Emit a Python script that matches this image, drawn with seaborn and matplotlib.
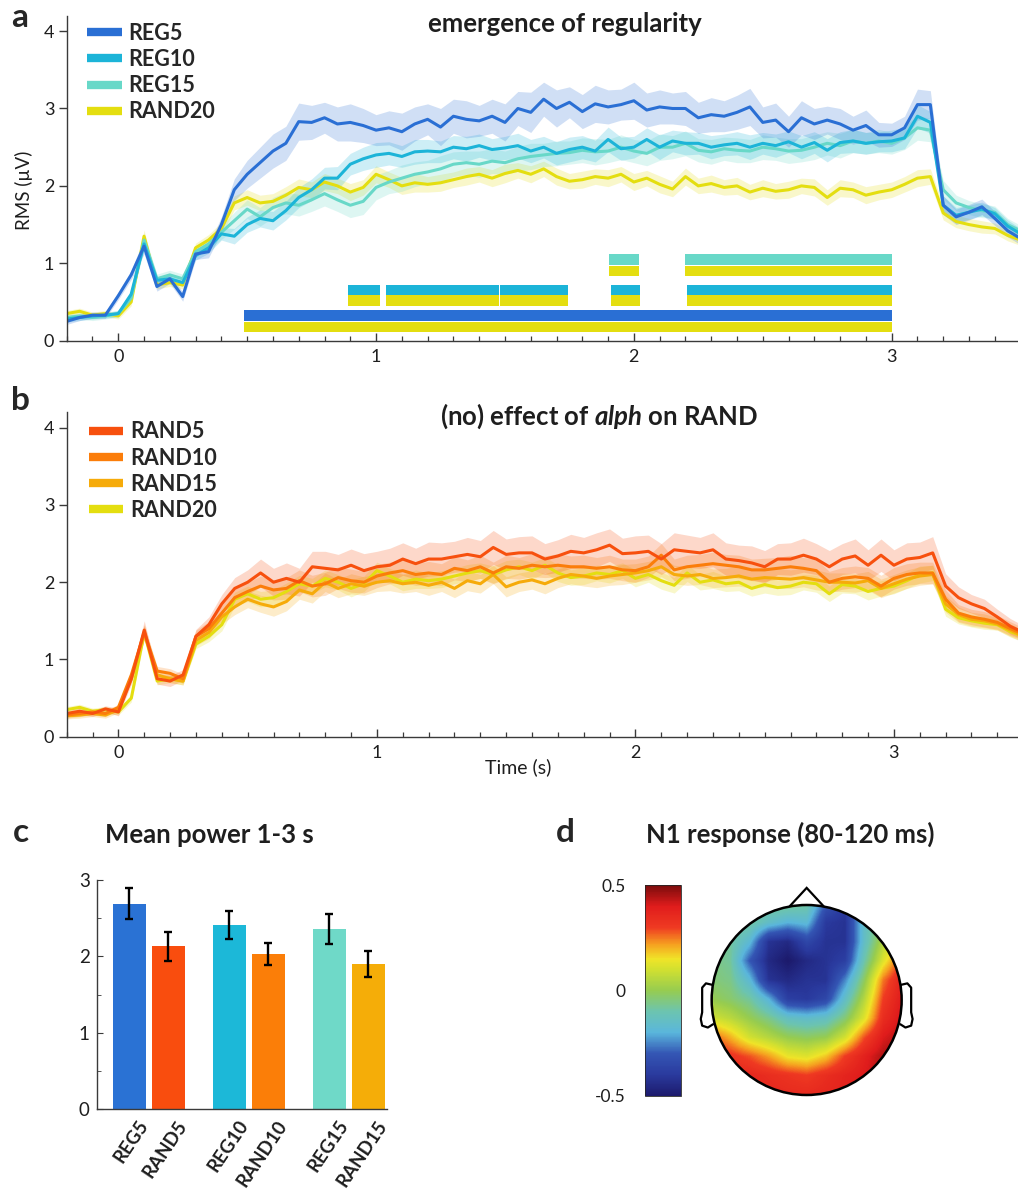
import numpy as np
import pandas as pd
import matplotlib
matplotlib.use("Agg")
import matplotlib.pyplot as plt
import seaborn as sns
from matplotlib.lines import Line2D
from matplotlib.patches import Circle, Polygon
from matplotlib.colors import LinearSegmentedColormap
from matplotlib.ticker import MultipleLocator
import matplotlib.transforms as mtrans

sns.set_style("ticks")
plt.rcParams['font.family'] = ['Lato', 'DejaVu Sans']
plt.rcParams['axes.unicode_minus'] = False
plt.rcParams['mathtext.fontset'] = 'custom'
plt.rcParams['mathtext.it'] = 'Lato:italic:bold'
plt.rcParams['mathtext.rm'] = 'Lato:bold'

# ---------------- data ----------------
TIME = [-0.20, -0.15, -0.10, -0.05, 0.00, 0.05, 0.10, 0.15, 0.20, 0.25,
        0.30, 0.35, 0.40, 0.45, 0.50, 0.55, 0.60, 0.65, 0.70, 0.75,
        0.80, 0.85, 0.90, 0.95, 1.00, 1.05, 1.10, 1.15, 1.20, 1.25,
        1.30, 1.35, 1.40, 1.45, 1.50, 1.55, 1.60, 1.65, 1.70, 1.75,
        1.80, 1.85, 1.90, 1.95, 2.00, 2.05, 2.10, 2.15, 2.20, 2.25,
        2.30, 2.35, 2.40, 2.45, 2.50, 2.55, 2.60, 2.65, 2.70, 2.75,
        2.80, 2.85, 2.90, 2.95, 3.00, 3.05, 3.10, 3.15, 3.20, 3.25,
        3.30, 3.35, 3.40, 3.45, 3.50]

REG5 = [0.25, 0.30, 0.33, 0.33, 0.58, 0.85, 1.22, 0.70, 0.80, 0.57,
        1.12, 1.15, 1.50, 1.95, 2.15, 2.30, 2.45, 2.55, 2.83, 2.82,
        2.88, 2.80, 2.82, 2.78, 2.72, 2.75, 2.70, 2.80, 2.86, 2.76,
        2.90, 2.86, 2.84, 2.90, 2.82, 3.00, 2.95, 3.12, 3.00, 3.08,
        2.96, 3.06, 3.02, 3.05, 3.10, 2.98, 3.02, 3.00, 3.00, 2.88,
        2.92, 2.90, 2.95, 3.02, 2.82, 2.85, 2.70, 2.88, 2.80, 2.85,
        2.80, 2.72, 2.78, 2.66, 2.66, 2.75, 3.05, 3.05, 1.75, 1.60,
        1.66, 1.73, 1.58, 1.42, 1.32]
REG10 = [0.28, 0.30, 0.32, 0.33, 0.35, 0.60, 1.25, 0.78, 0.80, 0.75,
         1.10, 1.20, 1.38, 1.35, 1.50, 1.58, 1.55, 1.68, 1.85, 1.95,
         2.10, 2.10, 2.28, 2.35, 2.40, 2.42, 2.38, 2.44, 2.45, 2.44,
         2.50, 2.48, 2.52, 2.47, 2.49, 2.52, 2.45, 2.50, 2.42, 2.47,
         2.50, 2.45, 2.60, 2.48, 2.50, 2.60, 2.50, 2.58, 2.55, 2.55,
         2.50, 2.53, 2.55, 2.50, 2.55, 2.52, 2.57, 2.50, 2.56, 2.46,
         2.56, 2.58, 2.55, 2.57, 2.58, 2.62, 2.90, 2.82, 1.75, 1.62,
         1.66, 1.70, 1.64, 1.48, 1.38]
REG15 = [0.30, 0.32, 0.30, 0.32, 0.35, 0.55, 1.30, 0.80, 0.85, 0.80,
         1.15, 1.25, 1.40, 1.55, 1.70, 1.60, 1.72, 1.78, 1.75, 1.82,
         1.90, 1.82, 1.75, 1.80, 1.98, 2.05, 2.10, 2.15, 2.18, 2.22,
         2.28, 2.30, 2.28, 2.32, 2.30, 2.35, 2.38, 2.40, 2.42, 2.43,
         2.46, 2.44, 2.45, 2.50, 2.45, 2.42, 2.50, 2.50, 2.55, 2.46,
         2.44, 2.48, 2.46, 2.45, 2.50, 2.48, 2.45, 2.46, 2.50, 2.55,
         2.52, 2.58, 2.55, 2.58, 2.55, 2.62, 2.75, 2.72, 1.95, 1.78,
         1.72, 1.68, 1.66, 1.50, 1.42]
RAND20 = [0.35, 0.38, 0.33, 0.35, 0.32, 0.50, 1.35, 0.72, 0.75, 0.72,
          1.20, 1.30, 1.45, 1.78, 1.85, 1.78, 1.80, 1.88, 1.98, 1.95,
          2.05, 2.00, 1.92, 1.98, 2.15, 2.08, 2.00, 2.04, 2.02, 2.04,
          2.08, 2.12, 2.15, 2.10, 2.16, 2.20, 2.15, 2.22, 2.12, 2.06,
          2.08, 2.12, 2.10, 2.15, 2.05, 2.10, 2.02, 1.96, 2.12, 2.00,
          2.03, 1.98, 2.00, 1.92, 1.97, 1.93, 1.95, 2.00, 1.98, 1.85,
          1.97, 1.95, 1.88, 1.92, 1.95, 2.02, 2.10, 2.12, 1.65, 1.54,
          1.50, 1.47, 1.45, 1.36, 1.30]
RAND5 = [0.30, 0.33, 0.30, 0.36, 0.32, 0.75, 1.38, 0.75, 0.72, 0.80,
         1.30, 1.45, 1.72, 1.92, 2.00, 2.12, 2.00, 2.05, 2.00, 2.20,
         2.18, 2.16, 2.22, 2.15, 2.20, 2.22, 2.30, 2.24, 2.30, 2.30,
         2.33, 2.36, 2.33, 2.45, 2.36, 2.38, 2.38, 2.30, 2.34, 2.40,
         2.38, 2.42, 2.48, 2.37, 2.38, 2.40, 2.30, 2.42, 2.40, 2.38,
         2.42, 2.30, 2.28, 2.25, 2.20, 2.30, 2.30, 2.35, 2.30, 2.20,
         2.30, 2.34, 2.22, 2.35, 2.22, 2.30, 2.32, 2.38, 1.95, 1.80,
         1.72, 1.66, 1.55, 1.43, 1.35]
RAND10 = [0.28, 0.30, 0.32, 0.30, 0.38, 0.80, 1.35, 0.85, 0.82, 0.75,
          1.30, 1.40, 1.60, 1.80, 1.88, 1.95, 1.90, 1.92, 2.02, 1.95,
          1.98, 2.06, 2.02, 2.00, 2.08, 2.12, 2.15, 2.10, 2.12, 2.10,
          2.18, 2.15, 2.20, 2.12, 2.20, 2.18, 2.22, 2.20, 2.22, 2.20,
          2.20, 2.18, 2.20, 2.16, 2.15, 2.20, 2.35, 2.16, 2.20, 2.22,
          2.24, 2.22, 2.20, 2.16, 2.16, 2.18, 2.20, 2.18, 2.15, 2.00,
          2.05, 2.07, 2.05, 1.95, 2.05, 2.10, 2.12, 2.12, 1.78, 1.60,
          1.55, 1.52, 1.48, 1.40, 1.33]
RAND15 = [0.27, 0.28, 0.30, 0.28, 0.35, 0.75, 1.35, 0.80, 0.75, 0.72,
          1.25, 1.35, 1.55, 1.68, 1.78, 1.72, 1.68, 1.75, 1.90, 1.85,
          2.00, 1.92, 1.98, 1.95, 2.00, 2.02, 1.98, 2.00, 1.96, 2.00,
          1.92, 2.02, 1.98, 2.10, 1.94, 2.00, 2.03, 1.98, 2.05, 2.10,
          2.08, 2.05, 2.08, 2.10, 2.12, 2.15, 2.20, 2.10, 2.08, 2.10,
          2.05, 2.06, 2.08, 2.04, 2.06, 2.05, 2.04, 2.06, 2.03, 2.00,
          2.00, 1.99, 2.02, 1.92, 1.98, 2.04, 2.08, 2.10, 1.72, 1.58,
          1.52, 1.50, 1.46, 1.38, 1.30]

REG5_SEM = [0.04, 0.04, 0.04, 0.04, 0.05, 0.06, 0.10, 0.06, 0.06, 0.06,
            0.07, 0.08, 0.10, 0.14, 0.18, 0.20, 0.22, 0.22, 0.24, 0.22,
            0.20, 0.22, 0.24, 0.22, 0.20, 0.22, 0.24, 0.22, 0.20, 0.24,
            0.22, 0.24, 0.20, 0.22, 0.24, 0.22, 0.26, 0.22, 0.24, 0.20,
            0.22, 0.24, 0.22, 0.20, 0.24, 0.22, 0.22, 0.20, 0.22, 0.20,
            0.22, 0.20, 0.22, 0.24, 0.20, 0.22, 0.20, 0.22, 0.20, 0.18,
            0.20, 0.18, 0.20, 0.16, 0.15, 0.15, 0.20, 0.18, 0.12, 0.10,
            0.10, 0.10, 0.09, 0.08, 0.08]
REG10_SEM = [0.04, 0.04, 0.04, 0.04, 0.04, 0.05, 0.08, 0.05, 0.05, 0.05,
             0.06, 0.07, 0.08, 0.10, 0.10, 0.11, 0.12, 0.12, 0.13, 0.14,
             0.14, 0.15, 0.14, 0.15, 0.16, 0.15, 0.14, 0.16, 0.15, 0.14,
             0.15, 0.16, 0.15, 0.14, 0.15, 0.16, 0.15, 0.14, 0.15, 0.16,
             0.15, 0.14, 0.16, 0.15, 0.14, 0.15, 0.16, 0.14, 0.15, 0.14,
             0.15, 0.14, 0.15, 0.16, 0.14, 0.15, 0.14, 0.15, 0.14, 0.15,
             0.14, 0.15, 0.14, 0.13, 0.14, 0.14, 0.15, 0.14, 0.12, 0.10,
             0.09, 0.09, 0.08, 0.08, 0.07]
REG15_SEM = [0.04, 0.04, 0.04, 0.04, 0.04, 0.05, 0.09, 0.06, 0.06, 0.06,
             0.07, 0.08, 0.09, 0.11, 0.12, 0.12, 0.13, 0.14, 0.14, 0.15,
             0.16, 0.15, 0.16, 0.17, 0.16, 0.15, 0.17, 0.16, 0.15, 0.17,
             0.16, 0.15, 0.17, 0.16, 0.15, 0.16, 0.17, 0.15, 0.16, 0.15,
             0.16, 0.17, 0.15, 0.16, 0.15, 0.16, 0.17, 0.15, 0.16, 0.15,
             0.16, 0.15, 0.16, 0.15, 0.16, 0.15, 0.16, 0.15, 0.16, 0.15,
             0.16, 0.15, 0.14, 0.15, 0.14, 0.15, 0.16, 0.15, 0.12, 0.10,
             0.09, 0.09, 0.08, 0.08, 0.07]
RAND20_SEM = [0.04, 0.04, 0.04, 0.04, 0.04, 0.05, 0.08, 0.05, 0.05, 0.05,
              0.06, 0.07, 0.08, 0.09, 0.10, 0.10, 0.10, 0.11, 0.11, 0.10,
              0.11, 0.10, 0.11, 0.10, 0.11, 0.10, 0.11, 0.12, 0.10, 0.11,
              0.10, 0.11, 0.10, 0.11, 0.12, 0.10, 0.11, 0.10, 0.11, 0.10,
              0.11, 0.10, 0.11, 0.10, 0.11, 0.10, 0.11, 0.10, 0.11, 0.10,
              0.11, 0.10, 0.11, 0.10, 0.11, 0.10, 0.11, 0.10, 0.11, 0.10,
              0.11, 0.10, 0.11, 0.10, 0.10, 0.10, 0.11, 0.10, 0.09, 0.08,
              0.08, 0.08, 0.07, 0.07, 0.07]
RAND5_SEM = [0.04, 0.04, 0.04, 0.04, 0.05, 0.07, 0.12, 0.07, 0.07, 0.07,
             0.09, 0.10, 0.12, 0.14, 0.16, 0.18, 0.18, 0.20, 0.18, 0.20,
             0.22, 0.20, 0.21, 0.22, 0.20, 0.22, 0.21, 0.20, 0.22, 0.21,
             0.20, 0.22, 0.21, 0.22, 0.20, 0.21, 0.22, 0.20, 0.21, 0.22,
             0.20, 0.22, 0.21, 0.20, 0.22, 0.21, 0.20, 0.22, 0.21, 0.20,
             0.22, 0.21, 0.20, 0.22, 0.21, 0.20, 0.21, 0.22, 0.20, 0.21,
             0.20, 0.22, 0.20, 0.21, 0.20, 0.21, 0.20, 0.21, 0.16, 0.14,
             0.12, 0.12, 0.10, 0.10, 0.09]
RAND10_SEM = [0.04, 0.04, 0.04, 0.04, 0.04, 0.06, 0.10, 0.06, 0.06, 0.06,
              0.08, 0.09, 0.10, 0.11, 0.12, 0.13, 0.13, 0.14, 0.14, 0.14,
              0.15, 0.14, 0.15, 0.14, 0.15, 0.14, 0.15, 0.14, 0.15, 0.14,
              0.15, 0.14, 0.15, 0.14, 0.15, 0.14, 0.15, 0.14, 0.15, 0.14,
              0.15, 0.14, 0.15, 0.14, 0.15, 0.14, 0.15, 0.14, 0.15, 0.14,
              0.15, 0.14, 0.15, 0.14, 0.15, 0.14, 0.15, 0.14, 0.15, 0.14,
              0.14, 0.14, 0.14, 0.14, 0.14, 0.14, 0.14, 0.14, 0.12, 0.11,
              0.10, 0.10, 0.09, 0.09, 0.08]
RAND15_SEM = [0.04, 0.04, 0.04, 0.04, 0.04, 0.05, 0.09, 0.05, 0.05, 0.05,
              0.07, 0.08, 0.09, 0.10, 0.11, 0.11, 0.12, 0.12, 0.12, 0.12,
              0.12, 0.12, 0.13, 0.12, 0.12, 0.13, 0.12, 0.12, 0.13, 0.12,
              0.12, 0.13, 0.12, 0.12, 0.13, 0.12, 0.12, 0.13, 0.12, 0.12,
              0.13, 0.12, 0.12, 0.13, 0.12, 0.12, 0.13, 0.12, 0.12, 0.13,
              0.12, 0.12, 0.13, 0.12, 0.12, 0.13, 0.12, 0.12, 0.13, 0.12,
              0.12, 0.12, 0.12, 0.12, 0.12, 0.12, 0.12, 0.12, 0.11, 0.10,
              0.09, 0.09, 0.08, 0.08, 0.08]

# significant clusters (start, end) in s
SIG_REG5 = [(0.487, 3.0)]
SIG_REG10 = [(0.89, 1.015), (1.04, 1.476), (1.482, 1.745), (1.912, 2.025), (2.205, 3.0)]
SIG_REG15 = [(1.905, 2.018), (2.20, 3.0)]

# panel c
BAR_LABELS = ['REG5', 'RAND5', 'REG10', 'RAND10', 'REG15', 'RAND15']
BAR_GROUP = ['5', '5', '10', '10', '15', '15']
BAR_KIND = ['REG', 'RAND', 'REG', 'RAND', 'REG', 'RAND']
BAR_MEANS = [2.69, 2.13, 2.41, 2.03, 2.36, 1.90]
BAR_SEM = [0.20, 0.19, 0.18, 0.145, 0.20, 0.175]

# panel d topography (rows: front -> back, cols: left -> right), grid step 0.2 head radii
TOPO = [
    [-0.05, -0.05, -0.05, -0.05, -0.05, -0.08, -0.30, -0.40, -0.20, -0.05, 0.00],
    [-0.05, -0.05, -0.08, -0.15, -0.20, -0.18, -0.40, -0.42, -0.15, -0.02, 0.05],
    [-0.05, -0.08, -0.18, -0.42, -0.45, -0.35, -0.42, -0.42, -0.15, 0.05, 0.15],
    [-0.05, -0.08, -0.30, -0.45, -0.50, -0.45, -0.42, -0.38, -0.10, 0.12, 0.30],
    [-0.04, -0.06, -0.18, -0.42, -0.45, -0.42, -0.42, -0.25, -0.02, 0.25, 0.38],
    [0.00, -0.03, -0.08, -0.20, -0.38, -0.40, -0.35, -0.15, 0.05, 0.30, 0.40],
    [0.10, 0.06, 0.00, -0.06, -0.14, -0.16, -0.14, -0.04, 0.12, 0.34, 0.42],
    [0.28, 0.20, 0.10, 0.05, 0.00, -0.02, 0.00, 0.10, 0.28, 0.40, 0.45],
    [0.35, 0.32, 0.28, 0.22, 0.14, 0.12, 0.18, 0.30, 0.38, 0.45, 0.47],
    [0.36, 0.36, 0.36, 0.34, 0.32, 0.30, 0.34, 0.37, 0.40, 0.45, 0.47],
    [0.36, 0.36, 0.36, 0.36, 0.35, 0.35, 0.36, 0.38, 0.40, 0.45, 0.45],
]
CBAR_TICKS = [-0.5, 0, 0.5]

# ---------------- style ----------------
COLORS = {'REG5': '#2a6fd4', 'REG10': '#1cb4d8', 'REG15': '#68d8c8',
          'RAND20': '#e4de10', 'RAND5': '#f7500e', 'RAND10': '#fb7d0a',
          'RAND15': '#f6ab0a'}
BAR_COLORS = {'REG5': '#2a72d4', 'RAND5': '#f94d0e', 'REG10': '#1cb8d8',
              'RAND10': '#fb7e08', 'REG15': '#6fd9c8', 'RAND15': '#f5ad08'}
AX_COL = '#3a3a3a'
TXT_COL = '#1e1e1e'
W, H = 1018, 1196
fig = plt.figure(figsize=(W / 100, H / 100), dpi=100)


def px_axes(x0, y0, x1, y1):
    return fig.add_axes([x0 / W, 1 - y1 / H, (x1 - x0) / W, (y1 - y0) / H])


SERIES = {'REG5': (REG5, REG5_SEM), 'REG10': (REG10, REG10_SEM),
          'REG15': (REG15, REG15_SEM), 'RAND20': (RAND20, RAND20_SEM),
          'RAND5': (RAND5, RAND5_SEM), 'RAND10': (RAND10, RAND10_SEM),
          'RAND15': (RAND15, RAND15_SEM)}


def style_time_axis(ax, xmax):
    ax.set_xlim(-0.2, xmax)
    ax.set_ylim(0, 4.2)
    sns.despine(ax=ax)
    for s in ['left', 'bottom']:
        ax.spines[s].set_color(AX_COL)
        ax.spines[s].set_linewidth(1.0)
    ax.set_yticks([0, 1, 2, 3, 4])
    ax.set_xticks([0, 1, 2, 3])
    ax.xaxis.set_minor_locator(MultipleLocator(0.1))
    ax.tick_params(axis='y', direction='out', length=6, width=1, colors=AX_COL,
                   labelcolor=TXT_COL, labelsize=13, pad=3)
    ax.tick_params(axis='x', which='major', direction='in', length=6, width=1,
                   colors=AX_COL, labelcolor=TXT_COL, labelsize=13, pad=6)
    ax.tick_params(axis='x', which='minor', direction='in', length=3.5, width=0.9,
                   colors=AX_COL)
    ax.set_xlabel('')
    ax.set_ylabel('')


def draw_panel(ax, order):
    for name in order:
        v, e = SERIES[name]
        v = np.asarray(v); e = np.asarray(e)
        ax.fill_between(TIME, v - e, v + e, color=COLORS[name], alpha=0.22, lw=0)
    rows = []
    for name in order:
        v, _ = SERIES[name]
        rows.append(pd.DataFrame({'time': TIME, 'rms': v, 'cond': name}))
    df = pd.concat(rows, ignore_index=True)
    sns.lineplot(data=df, x='time', y='rms', hue='cond', hue_order=order,
                 palette=COLORS, linewidth=2.2, estimator=None, legend=False, ax=ax)


def add_legend(ax, names, anchor):
    handles = [Line2D([0], [0], color=COLORS[n], lw=6, solid_capstyle='butt') for n in names]
    ax.legend(handles, names, loc='upper left', bbox_to_anchor=anchor, frameon=False,
              handlelength=1.6, handletextpad=0.33, labelspacing=0.24,
              borderaxespad=0, borderpad=0, prop={'weight': 'bold', 'size': 15.5})

# ---------------- panel a ----------------
axA = px_axes(66.7, 15.6, 1018, 340.7)
draw_panel(axA, ['RAND20', 'REG15', 'REG10', 'REG5'])
style_time_axis(axA, 3.49)
bar_rows = [(SIG_REG5, 'REG5', 0.26, 0.11), (SIG_REG10, 'REG10', 0.59, 0.45),
            (SIG_REG15, 'REG15', 0.98, 0.83)]
for segs, name, ytop, ybot in bar_rows:
    xr = [(s, e - s) for s, e in segs]
    axA.broken_barh(xr, (ytop, 0.135), facecolors=COLORS[name], lw=0)
    axA.broken_barh(xr, (ybot, 0.135), facecolors=COLORS['RAND20'], lw=0)
add_legend(axA, ['REG5', 'REG10', 'REG15', 'RAND20'], (0.0215, 0.978))

# ---------------- panel b ----------------
axB = px_axes(66.7, 412.3, 1018, 736.7)
draw_panel(axB, ['RAND20', 'RAND15', 'RAND10', 'RAND5'])
style_time_axis(axB, 3.48)
add_legend(axB, ['RAND5', 'RAND10', 'RAND15', 'RAND20'], (0.0235, 0.972))

# ---------------- panel c ----------------
axC = px_axes(96.7, 880, 386.7, 1109)
dfc = pd.DataFrame({'label': BAR_LABELS, 'group': BAR_GROUP, 'kind': BAR_KIND,
                    'mean': BAR_MEANS, 'sem': BAR_SEM})
sns.barplot(data=dfc, x='group', y='mean', hue='kind', order=['5', '10', '15'],
            hue_order=['REG', 'RAND'], width=0.78, gap=0.15, errorbar=None,
            legend=False, saturation=1, ax=axC)
bars = sorted([p for p in axC.patches if p.get_height() > 0],
              key=lambda p: p.get_x())
centers = []
for p, lab in zip(bars, BAR_LABELS):
    p.set_facecolor(BAR_COLORS[lab])
    p.set_edgecolor('none')
    centers.append(p.get_x() + p.get_width() / 2)
axC.errorbar(centers, dfc['mean'], yerr=dfc['sem'], fmt='none', ecolor='black',
             elinewidth=1.7, capsize=3, capthick=1.7)
axC.set_xlim(-0.52, 2.38)
axC.set_ylim(0, 3)
axC.set_yticks([0, 1, 2, 3])
axC.yaxis.set_minor_locator(MultipleLocator(0.5))
sns.despine(ax=axC)
for s in ['left', 'bottom']:
    axC.spines[s].set_color(AX_COL)
    axC.spines[s].set_linewidth(1.0)
axC.tick_params(axis='y', which='major', direction='in', length=4, colors=AX_COL,
                labelcolor=TXT_COL, labelsize=13.5, pad=5)
axC.tick_params(axis='y', which='minor', direction='in', length=3, colors=AX_COL)
axC.set_xticks(centers)
axC.set_xticklabels(BAR_LABELS, rotation=56, ha='right', va='top',
                    rotation_mode='anchor', fontsize=13.5, fontweight='bold')
axC.tick_params(axis='x', length=0, pad=6, labelcolor=TXT_COL)
off = mtrans.ScaledTranslation(8 / 100, 0, fig.dpi_scale_trans)
for t in axC.get_xticklabels():
    t.set_transform(t.get_transform() + off)
axC.set_xlabel('')
axC.set_ylabel('')

# ---------------- panel d ----------------
cmap = LinearSegmentedColormap.from_list('topo', [
    (0.00, '#1c1a6c'), (0.10, '#2a3a9e'), (0.20, '#3456b4'), (0.30, '#5ab6dc'),
    (0.40, '#6cc4b0'), (0.50, '#96cc50'), (0.60, '#d2e030'), (0.65, '#f0e428'),
    (0.72, '#f6a020'), (0.80, '#ef3a22'), (0.90, '#e01c1c'), (1.00, '#7a0c0c')])
axD = px_axes(690, 880, 920, 1110)
axD.set_xlim(-1.228, 1.193)
axD.set_ylim(-1.158, 1.263)
axD.axis('off')
im = axD.imshow(np.array(TOPO), extent=[-1.1, 1.1, -1.1, 1.1], origin='upper',
                cmap=cmap, vmin=-0.5, vmax=0.5, interpolation='bilinear', aspect='auto')
clip = Circle((0, 0), 1.0, transform=axD.transData)
im.set_clip_path(clip)
axD.add_patch(Circle((0, 0), 1.0, fill=False, ec='black', lw=1.8))
axD.add_patch(Polygon([(-0.18, 0.985), (0.0, 1.18), (0.18, 0.985)], closed=False,
                      fill=False, ec='black', lw=1.6))
ear = np.array([(-0.995, 0.16), (-1.06, 0.175), (-1.10, 0.13), (-1.10, -0.13),
                (-1.115, -0.20), (-1.10, -0.27), (-1.04, -0.29), (-0.985, -0.255)])
axD.plot(ear[:, 0], ear[:, 1], color='black', lw=1.6)
axD.plot(-ear[:, 0], ear[:, 1], color='black', lw=1.6)

cax = px_axes(645, 885, 681, 1096)
cb = fig.colorbar(im, cax=cax, ticks=CBAR_TICKS)
cax.yaxis.set_ticks_position('left')
cax.set_yticklabels(['-0.5', '0', '0.5'])
cax.tick_params(direction='in', length=0, labelsize=12.5, pad=14, labelcolor=TXT_COL)
cb.outline.set_linewidth(0.6)

# ---------------- texts ----------------
fig.text(11 / W, 1 - 27 / H, 'a', fontsize=24, fontweight='bold', va='baseline', ha='left')
fig.text(11 / W, 1 - 410 / H, 'b', fontsize=24, fontweight='bold', va='baseline', ha='left')
fig.text(13 / W, 1 - 842 / H, 'c', fontsize=24, fontweight='bold', va='baseline', ha='left')
fig.text(556 / W, 1 - 842 / H, 'd', fontsize=24, fontweight='bold', va='baseline', ha='left')
fig.text(565 / W, 1 - 31.5 / H, 'emergence of regularity', fontsize=18.5, fontweight='bold',
         ha='center', va='baseline', color=TXT_COL)
fig.text(599 / W, 1 - 425 / H, r'(no) effect of $\mathit{alph}$ on RAND', fontsize=18.5,
         fontweight='bold', ha='center', va='baseline', color=TXT_COL)
fig.text(209 / W, 1 - 843 / H, 'Mean power 1-3 s', fontsize=18.5, fontweight='bold',
         ha='center', va='baseline', color=TXT_COL)
fig.text(790 / W, 1 - 843 / H, 'N1 response (80-120 ms)', fontsize=18.5, fontweight='bold',
         ha='center', va='baseline', color=TXT_COL)
fig.text(24 / W, 1 - 190 / H, 'RMS (\u00b5V)', rotation=90, fontsize=13.5,
         ha='center', va='center', color=TXT_COL)
fig.text(518 / W, 1 - 767 / H, 'Time (s)', fontsize=14, ha='center', va='center',
         color=TXT_COL)

fig.savefig('out.png', dpi=100)
